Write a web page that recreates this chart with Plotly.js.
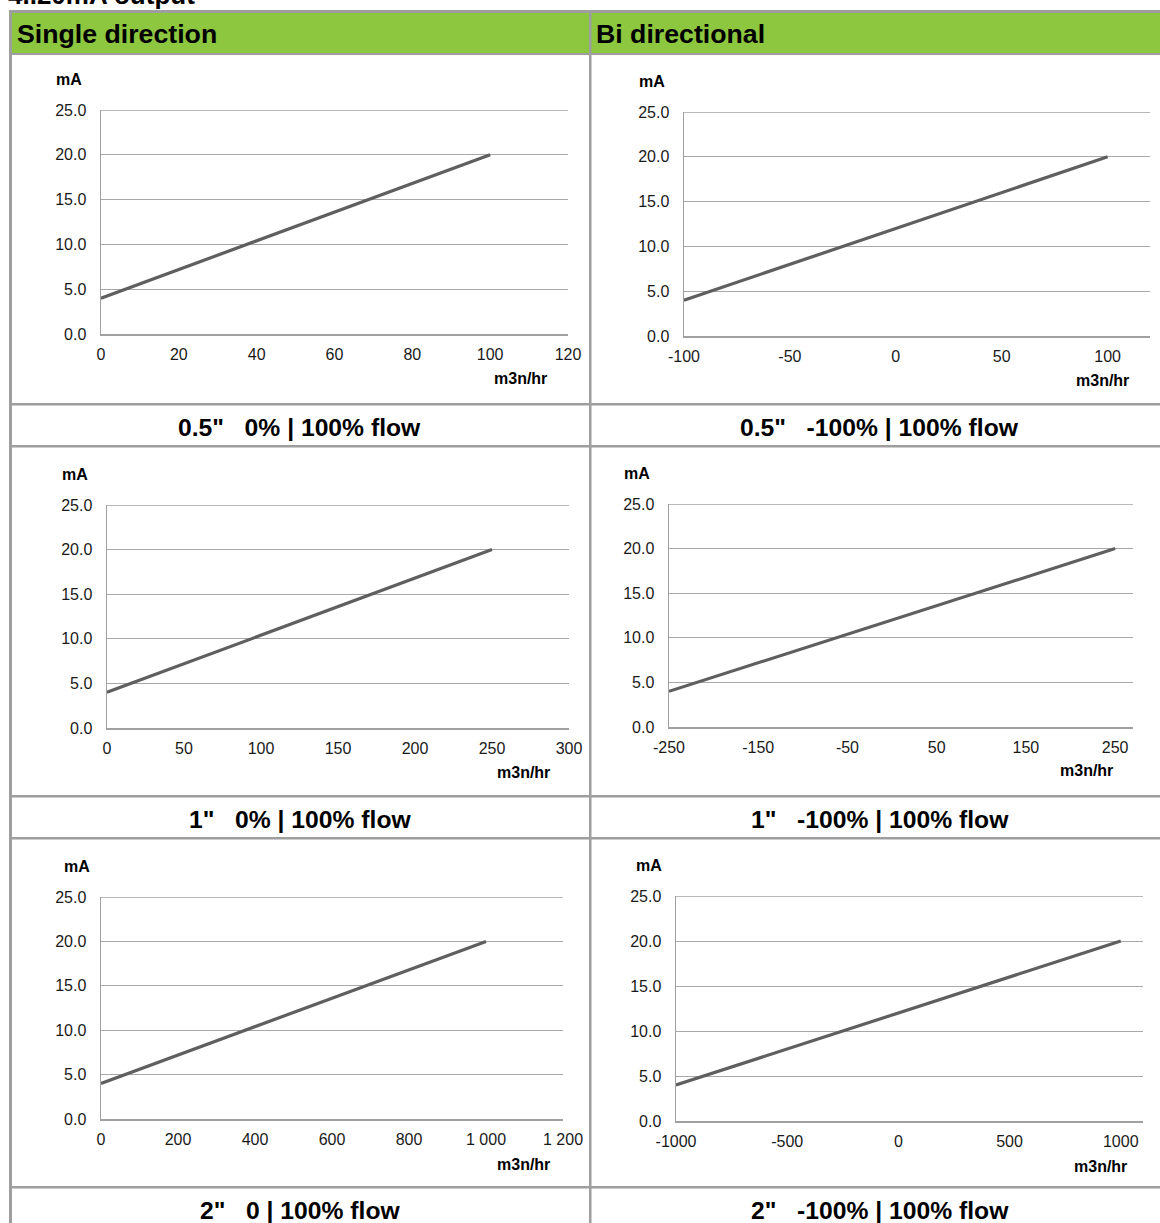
<!DOCTYPE html>
<html>
<head>
<meta charset="utf-8">
<script src="https://cdn.plot.ly/plotly-3.0.1.min.js"></script>
<style>
html,body{margin:0;padding:0;background:#fff;overflow:hidden;}
#chart{width:1160px;height:1223px;}
</style>
</head>
<body>
<div id="chart"></div>
<script>
// ---- data ----
const mA = [4, 20];
const flowSingle05 = [0, 100];
const flowBi05 = [-100, 100];
const flowSingle1 = [0, 250];
const flowBi1 = [-250, 250];
const flowSingle2 = [0, 1000];
const flowBi2 = [-1000, 1000];

const yTickVals = [0, 5, 10, 15, 20, 25];
const yTickText = ['0.0', '5.0', '10.0', '15.0', '20.0', '25.0'];

const xTicksSingle05 = [0, 20, 40, 60, 80, 100, 120];
const xTicksBi05 = [-100, -50, 0, 50, 100];
const xTicksSingle1 = [0, 50, 100, 150, 200, 250, 300];
const xTicksBi1 = [-250, -150, -50, 50, 150, 250];
const xTicksSingle2 = [0, 200, 400, 600, 800, 1000, 1200];
const xTickTextSingle2 = ['0', '200', '400', '600', '800', '1 000', '1 200'];
const xTicksBi2 = [-1000, -500, 0, 500, 1000];
const xTickTextBi2 = ['-1000', '-500', '0', '500', '1000'];

const headerLeft = 'Single direction';
const headerRight = 'Bi directional';
const pageTitle = '4..20mA output';
const yUnit = 'mA';
const xUnit = 'm3n/hr';
const captions = [
  '0.5"\u00a0\u00a0 0% | 100% flow',
  '0.5"\u00a0\u00a0 -100% | 100% flow',
  '1"\u00a0\u00a0 0% | 100% flow',
  '1"\u00a0\u00a0 -100% | 100% flow',
  '2"\u00a0\u00a0 0 | 100% flow',
  '2"\u00a0\u00a0 -100% | 100% flow'
];

// ---- layout helpers ----
const W = 1160, H = 1223;
const X = p => p / W;
const Y = p => 1 - p / H;
const FONT = 'Arial, "Liberation Sans", sans-serif';

const charts = [
  {x: flowSingle05, px: [101, 568], py: [110, 334], range: [0, 120], tv: xTicksSingle05, tt: null, mA: [69, 79], unit: [520, 379]},
  {x: flowBi05, px: [684, 1150], py: [112, 336], range: [-100, 120], tv: xTicksBi05, tt: null, mA: [652, 81], unit: [1102, 381]},
  {x: flowSingle1, px: [107, 569], py: [505, 728], range: [0, 300], tv: xTicksSingle1, tt: null, mA: [75, 474], unit: [523, 772]},
  {x: flowBi1, px: [669, 1133], py: [504, 727], range: [-250, 270], tv: xTicksBi1, tt: null, mA: [637, 473], unit: [1086, 771]},
  {x: flowSingle2, px: [101, 563], py: [897, 1119], range: [0, 1200], tv: xTicksSingle2, tt: xTickTextSingle2, mA: [77, 866], unit: [523, 1164]},
  {x: flowBi2, px: [676, 1143], py: [896, 1121], range: [-1000, 1100], tv: xTicksBi2, tt: xTickTextBi2, mA: [649, 865], unit: [1100, 1166]}
];

const traces = [];
const layout = {
  width: W, height: H,
  margin: {l: 0, r: 0, t: 0, b: 0},
  paper_bgcolor: '#fff', plot_bgcolor: 'rgba(0,0,0,0)',
  showlegend: false,
  font: {family: FONT, color: '#111'},
  shapes: [], annotations: []
};

const BORDER = '#9e9e9e';
const GRID = '#a8a8a8';
function rect(x0, y0, x1, y1, color, layer) {
  layout.shapes.push({type: 'rect', xref: 'paper', yref: 'paper', x0: X(x0), x1: X(x1), y0: Y(y1), y1: Y(y0),
    fillcolor: color, line: {width: 0}, layer: layer || 'below'});
}
// header backgrounds
rect(12, 13, 589, 53, '#8dc63f');
rect(591, 13, 1160, 53, '#8dc63f');
// table borders
rect(9, 10, 1160, 13, BORDER, 'above');
[[53, 55], [403, 405.5], [445, 447.5], [795, 797.5], [837, 839.5], [1186, 1188.5]].forEach(r => rect(9, r[0], 1160, r[1], BORDER, 'above'));
rect(9, 10, 12, 1223, BORDER, 'above');
rect(589, 10, 591.5, 1223, BORDER, 'above');

function ann(text, px, py, size, bold, xanchor, yanchor) {
  layout.annotations.push({text: bold ? '<b>' + text + '</b>' : text, xref: 'paper', yref: 'paper',
    x: X(px), y: Y(py), xanchor: xanchor || 'center', yanchor: yanchor || 'middle', showarrow: false,
    font: {family: FONT, size: size, color: '#000'}});
}
ann(pageTitle, 6, 12, 26, true, 'left', 'bottom');
ann(headerLeft, 15, 34, 26.7, true, 'left', 'middle');
ann(headerRight, 594, 34, 26.7, true, 'left', 'middle');
ann(captions[0], 299, 427, 24.7, true);
ann(captions[1], 879, 427, 24.7, true);
ann(captions[2], 300, 819, 24.7, true);
ann(captions[3], 880, 819, 24.7, true);
ann(captions[4], 300, 1210, 24.7, true);
ann(captions[5], 880, 1210, 24.7, true);

charts.forEach((c, i) => {
  const n = i === 0 ? '' : String(i + 1);
  traces.push({type: 'scatter', mode: 'lines', x: c.x, y: mA, xaxis: 'x' + n, yaxis: 'y' + n,
    line: {color: '#5f5f5f', width: 3.2}, hoverinfo: 'skip'});
  layout['xaxis' + n] = {
    domain: [X(c.px[0]), X(c.px[1])], anchor: 'y' + n, range: c.range, fixedrange: true,
    tickmode: 'array', tickvals: c.tv, ticktext: c.tt || c.tv.map(String),
    showgrid: false, zeroline: false, showline: true, linecolor: '#a0a0a0', linewidth: 1.5,
    ticks: 'outside', ticklen: 5, tickcolor: 'rgba(0,0,0,0)',
    tickfont: {family: FONT, size: 16, color: '#1a1a1a'}
  };
  layout['yaxis' + n] = {
    domain: [Y(c.py[1]), Y(c.py[0])], anchor: 'x' + n, range: [0, 25], fixedrange: true,
    tickmode: 'array', tickvals: yTickVals, ticktext: yTickText,
    showgrid: true, gridcolor: GRID, gridwidth: 1, zeroline: false,
    showline: true, linecolor: '#a0a0a0', linewidth: 1.5,
    ticks: 'outside', ticklen: 10, tickcolor: 'rgba(0,0,0,0)',
    tickfont: {family: FONT, size: 16, color: '#1a1a1a'}
  };
  // top gridline at the axis maximum (Plotly drops grid lines at the range edge)
  layout.shapes.push({type: 'line', xref: 'x' + n + ' domain', yref: 'y' + n, x0: 0, x1: 1,
    y0: yTickVals[yTickVals.length - 1], y1: yTickVals[yTickVals.length - 1],
    line: {color: '#a0a0a0', width: 1.4}, layer: 'below'});
  ann(yUnit, c.mA[0], c.mA[1], 16, true);
  ann(xUnit, c.unit[0], c.unit[1], 16, true);
});

Plotly.newPlot('chart', traces, layout, {staticPlot: true, displayModeBar: false});
</script>
</body>
</html>
